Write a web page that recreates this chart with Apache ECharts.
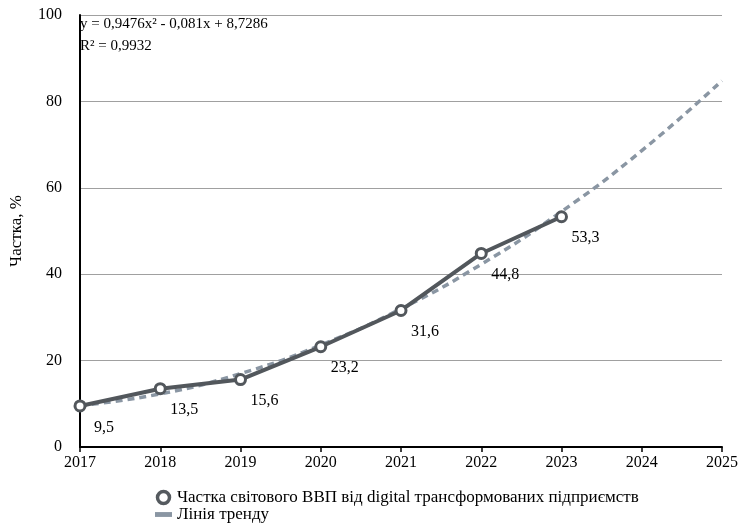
<!DOCTYPE html>
<html>
<head>
<meta charset="utf-8">
<script src="https://cdn.jsdelivr.net/npm/echarts@6/dist/echarts.min.js"></script>
<style>html,body{margin:0;padding:0;background:#fff}#c{width:738px;height:525px}</style>
</head>
<body>
<div id="c"></div>
<script>
const years = ['2017','2018','2019','2020','2021','2022','2023','2024','2025'];
const shareValues = [9.5, 13.5, 15.6, 23.2, 31.6, 44.8, 53.3];
const trendValues = [9.6, 12.3, 17.0, 23.6, 32.0, 42.3, 54.5, 68.6, 84.8];
const yTicks = [0, 20, 40, 60, 80, 100];
const seriesName = 'Частка світового ВВП від digital трансформованих підприємств';
const trendName = 'Лінія тренду';
const equationText = 'y = 0,9476x² - 0,081x + 8,7286';
const r2Text = 'R² = 0,9932';
const yAxisName = 'Частка, %';

const font = 'Liberation Serif, Times New Roman, serif';
const chart = echarts.init(document.getElementById('c'));
chart.setOption({
  animation: false,
  textStyle: {fontFamily: font},
  grid: {left: 80, right: 16, top: 15, bottom: 78, outerBoundsMode: 'none', containLabel: false},
  xAxis: {
    type: 'category', data: years, boundaryGap: false,
    axisLine: {lineStyle: {color: '#000', width: 2}},
    axisTick: {show: true, length: 5, lineStyle: {color: '#000', width: 1.5}},
    axisLabel: {color: '#000', fontSize: 16, fontFamily: font, margin: 8}
  },
  yAxis: {
    type: 'value', min: yTicks[0], max: yTicks[yTicks.length-1], interval: 20,
    name: yAxisName, nameLocation: 'middle', nameGap: 55,
    nameTextStyle: {color: '#000', fontSize: 17, fontFamily: font},
    axisLine: {show: true, lineStyle: {color: '#000', width: 2}},
    axisTick: {show: false},
    axisLabel: {color: '#000', fontSize: 16, fontFamily: font, margin: 18},
    splitLine: {lineStyle: {color: '#a0a0a0', width: 1}}
  },
  legend: {
    orient: 'vertical', left: 150, top: 484, height: 42, itemGap: 0,
    itemWidth: 17, itemHeight: 12,
    textStyle: {color: '#000', fontSize: 17, fontFamily: font},
    data: [
      {name: seriesName, icon: 'circle', itemStyle: {color: '#fff', borderColor: '#555a5f', borderWidth: 3.5}},
      {name: trendName, icon: 'path://M0,0L14,0L14,4L0,4Z', itemStyle: {color: '#8a96a3', borderWidth: 0}}
    ]
  },
  graphic: [
    {type: 'text', left: 80, top: 17, style: {text: equationText, fill: '#000', font: '15px ' + font}},
    {type: 'text', left: 80, top: 39, style: {text: r2Text, fill: '#000', font: '15px ' + font}}
  ],
  series: [
    {
      name: trendName, type: 'line', data: trendValues, smooth: true,
      symbol: 'none', z: 1,
      lineStyle: {color: '#8a96a3', width: 3.5, type: [7, 5]},
      itemStyle: {color: '#8a96a3'}
    },
    {
      name: seriesName, type: 'line', data: shareValues, z: 2,
      symbol: 'circle', symbolSize: 10,
      lineStyle: {color: '#52575c', width: 4},
      itemStyle: {color: '#fff', borderColor: '#52575c', borderWidth: 3},
      label: {
        show: true, position: 'bottom', offset: [24, 2],
        color: '#000', fontSize: 16, fontFamily: font,
        formatter: p => String(p.value).replace('.', ',')
      }
    }
  ]
});
</script>
</body>
</html>
